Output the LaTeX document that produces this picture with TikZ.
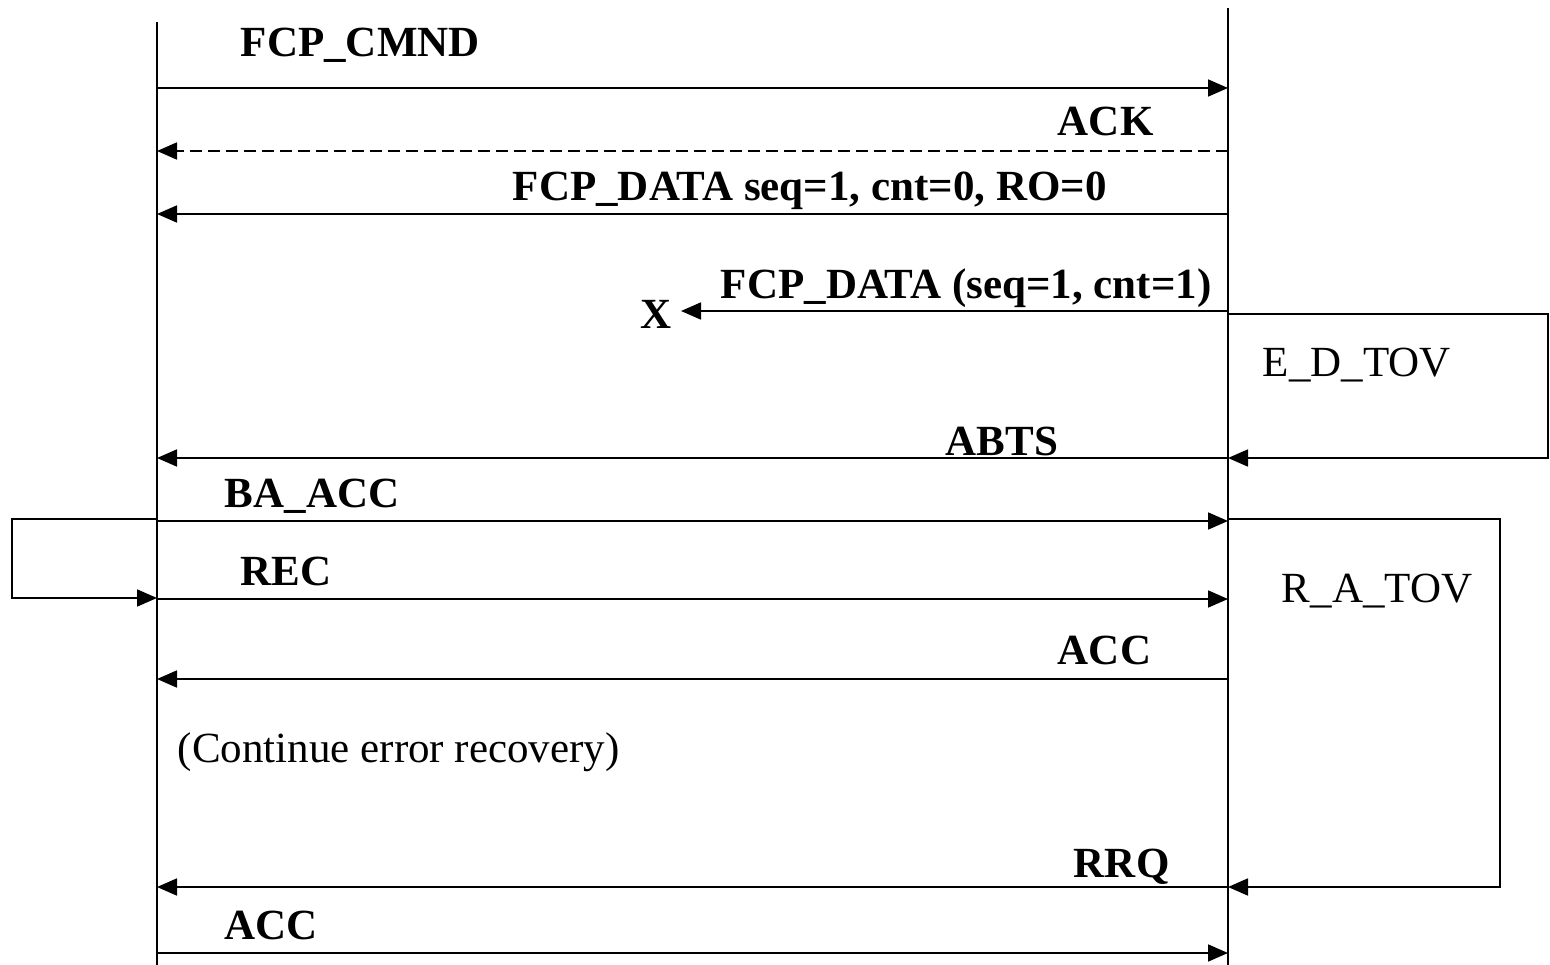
\documentclass[tikz,border=0pt]{standalone}
\usepackage{fontspec}
\setmainfont{Liberation Serif}
\usetikzlibrary{arrows.meta}
\begin{document}
\begin{tikzpicture}[x=1pt,y=-1pt,
  line width=1.8pt,
  msg/.style={-{Triangle[length=20pt,width=17pt]}},
  bl/.style={anchor=base west,inner sep=0pt,font=\fontsize{43}{50}\selectfont\bfseries},
  rl/.style={anchor=base west,inner sep=0pt,font=\fontsize{43}{50}\selectfont},
  life/.style={line width=1.8pt}]
\useasboundingbox (0,0) rectangle (1550,965);
% lifelines
\coordinate (Ltop) at (157,22);
\coordinate (Lbot) at (157,965);
\coordinate (Rtop) at (1228,8);
\coordinate (Rbot) at (1228,965);
\draw[life] (Ltop) -- (Lbot);
\draw[life] (Rtop) -- (Rbot);
% message endpoints
\coordinate (a1) at (157,88);  \coordinate (b1) at (1228,88);
\coordinate (a2) at (157,151); \coordinate (b2) at (1228,151);
\coordinate (a3) at (157,214); \coordinate (b3) at (1228,214);
\coordinate (a4) at (681,311); \coordinate (b4) at (1228,311);
\coordinate (a5) at (157,458); \coordinate (b5) at (1228,458);
\coordinate (a6) at (157,521); \coordinate (b6) at (1228,521);
\coordinate (a7) at (157,599); \coordinate (b7) at (1228,599);
\coordinate (a8) at (157,679); \coordinate (b8) at (1228,679);
\coordinate (a9) at (157,887); \coordinate (b9) at (1228,887);
\coordinate (a10) at (157,953); \coordinate (b10) at (1228,953);
% messages
\draw[msg] (a1) -- (b1);
\draw[msg,dashed,dash pattern=on 12pt off 6pt] (b2) -- (a2);
\draw[msg] (b3) -- (a3);
\draw[msg] (b4) -- (a4);
\draw[msg] (b5) -- (a5);
\draw[msg] (a6) -- (b6);
\draw[msg] (a7) -- (b7);
\draw[msg] (b8) -- (a8);
\draw[msg] (b9) -- (a9);
\draw[msg] (a10) -- (b10);
% labels
\node[bl] (t1) at (240,57) {FCP\_CMND};
\node[bl] (t2) at (1057,136) {ACK};
\node[bl] (t3) at (512,201) {FCP\_DATA seq=1, cnt=0, RO=0};
\node[bl] (t4) at (720,299) {FCP\_DATA (seq=1, cnt=1)};
\node[bl] (x) at (640,329) {X};
\node[bl] (t5) at (945,455) {ABTS};
\node[bl] (t6) at (224,507) {BA\_ACC};
\node[bl] (t7) at (240,585) {REC};
\node[bl] (t8) at (1057,664) {ACC};
\node[rl] (t9) at (177,762) {(Continue error recovery)};
\node[bl] (t10) at (1073,877) {RRQ};
\node[bl] (t11) at (224,939) {ACC};
% timers
\coordinate (e1) at (1228,314);
\coordinate (e2) at (1548,314);
\coordinate (e3) at (1548,458);
\draw[msg] (e1) -- (e2) -- (e3) -- (b5);
\node[rl] (edtov) at (1262,377) {E\_D\_TOV};
\coordinate (r1) at (1228,519);
\coordinate (r2) at (1500,519);
\coordinate (r3) at (1500,887);
\draw[msg] (r1) -- (r2) -- (r3) -- (b9);
\node[rl] (ratov) at (1281,602) {R\_A\_TOV};
\coordinate (l1) at (157,519);
\coordinate (l2) at (12,519);
\coordinate (l3) at (12,598);
\coordinate (l4) at (157,598);
\draw[msg] (l1) -- (l2) -- (l3) -- (l4);
\end{tikzpicture}
\end{document}
